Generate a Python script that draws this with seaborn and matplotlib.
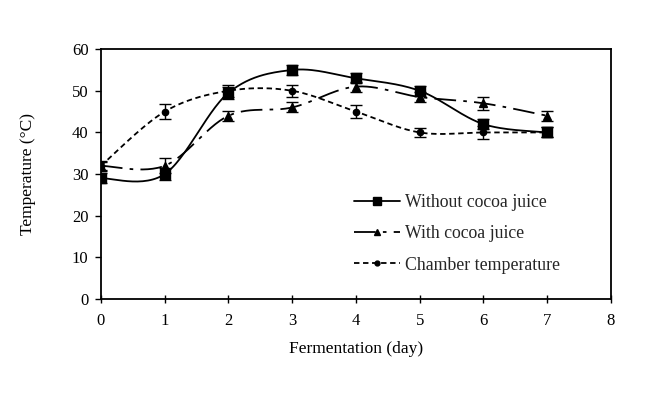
import matplotlib
matplotlib.use("Agg")
import matplotlib.pyplot as plt
import numpy as np
import pandas as pd
import seaborn as sns
from matplotlib.lines import Line2D

days = [0, 1, 2, 3, 4, 5, 6, 7]
without_juice = [29, 30, 49.5, 55, 53, 50, 42, 40]
with_juice = [32, 32, 44, 46, 51, 48.5, 47, 44]
chamber = [32, 45, 50, 50, 45, 40, 40, 40]
err_without = [1.2, 1.5, 1.5, 1.2, 1.2, 1.2, 1.2, 1.2]
err_with = [1.2, 1.8, 1.2, 1.2, 1.2, 1.2, 1.5, 1.2]
err_chamber = [1.0, 1.8, 1.5, 1.5, 1.5, 1.0, 1.5, 1.2]

labels = ["Without cocoa juice", "With cocoa juice", "Chamber temperature"]


def smooth(x, y, n=30):
    """Excel-like smoothed line (Catmull-Rom Bezier through the points)."""
    x = np.asarray(x, float)
    y = np.asarray(y, float)
    px = np.concatenate([[x[0]], x, [x[-1]]])
    py = np.concatenate([[y[0]], y, [y[-1]]])
    xs, ys = [], []
    t = np.linspace(0, 1, n)
    for i in range(1, len(px) - 2):
        p0 = np.array([px[i], py[i]])
        p3 = np.array([px[i + 1], py[i + 1]])
        p1 = p0 + (np.array([px[i + 1], py[i + 1]]) - np.array([px[i - 1], py[i - 1]])) / 6
        p2 = p3 - (np.array([px[i + 2], py[i + 2]]) - np.array([px[i], py[i]])) / 6
        b = ((1 - t) ** 3)[:, None] * p0 + (3 * (1 - t) ** 2 * t)[:, None] * p1 \
            + (3 * (1 - t) * t ** 2)[:, None] * p2 + (t ** 3)[:, None] * p3
        xs.extend(b[:, 0])
        ys.extend(b[:, 1])
    return np.array(xs), np.array(ys)


sns.set_theme(style="ticks")
plt.rcParams["font.family"] = ["Liberation Serif", "DejaVu Serif"]
plt.rcParams["font.size"] = 11.5

fig = plt.figure(figsize=(6.64, 3.93), dpi=100)
ax = fig.add_axes([0.152, 0.239, 0.768, 0.636])

series = [
    (without_juice, err_without, "-", "s", 7, (None, None)),
    (with_juice, err_with, "-.", "^", 6, (12, 4, 2, 4)),
    (chamber, err_chamber, "--", "o", 4.5, (3, 2)),
]
handles = []
for (vals, err, ls, mk, ms, dash), lab in zip(series, labels):
    sx, sy = smooth(days, vals)
    df = pd.DataFrame({"day": sx, "temp": sy})
    sns.lineplot(data=df, x="day", y="temp", ax=ax, color="black", lw=1.3,
                 linestyle=ls, sort=False, estimator=None)
    if dash[0] is not None:
        ax.lines[-1].set_dashes(dash)
    ax.errorbar(days, vals, yerr=err, fmt=mk, color="black", ms=ms,
                capsize=4.5, elinewidth=1, capthick=1)
    h = Line2D([], [], color="black", lw=1.3, linestyle=ls, marker=mk, markersize=ms - 1)
    if dash[0] is not None:
        h.set_dashes(dash)
    handles.append(h)

ax.set_xlim(0, 8)
ax.set_ylim(0, 60)
ax.set_xticks(range(0, 9))
ax.set_yticks(range(0, 61, 10))
ax.tick_params(axis="x", direction="inout", length=6, width=1, colors="black",
               labelsize=12, pad=7)
ax.tick_params(axis="y", direction="out", length=4, width=1, colors="black",
               labelsize=12, pad=5)
for s in ax.spines.values():
    s.set_color("black")
    s.set_linewidth(1.3)
ax.set_xlabel("Fermentation (day)", fontsize=12.5, color="black", labelpad=9)
ax.set_ylabel("Temperature (°C)", fontsize=12.5, color="black", labelpad=26)

ax.legend(handles, labels, loc="upper left", bbox_to_anchor=(0.478, 0.455),
          frameon=False, fontsize=12.8, handlelength=2.6, labelspacing=0.8,
          handletextpad=0.3, borderpad=0)

fig.savefig("out.png", dpi=100)
